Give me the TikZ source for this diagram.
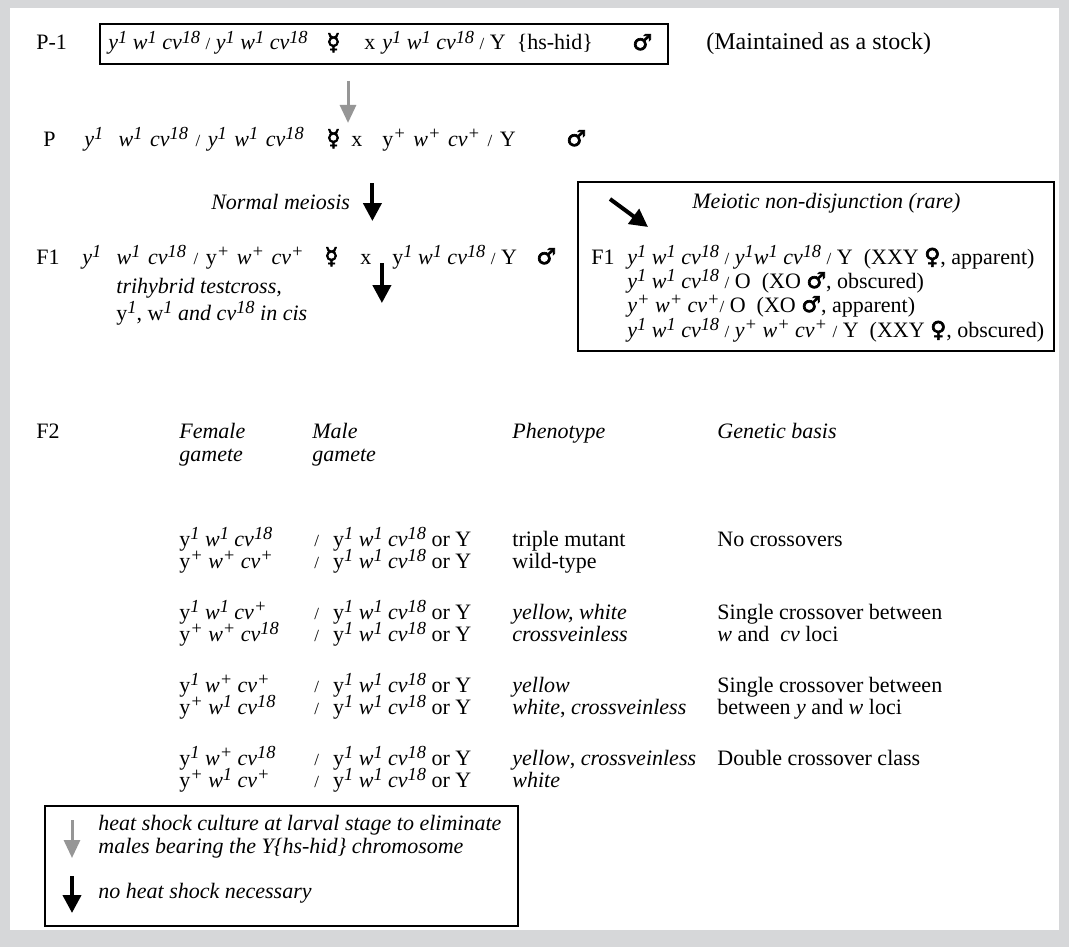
\documentclass[tikz,border=0pt]{standalone}
\usepackage{fontspec}
\setmainfont{Liberation Serif}
\newfontfamily\symfont[FakeBold=3]{DejaVu Sans}
\usetikzlibrary{arrows.meta,positioning,calc}
\definecolor{framegrey}{RGB}{214,215,217}
\definecolor{hsgrey}{RGB}{150,150,150}
\newcommand{\gi}[2]{\textit{#1}\raisebox{0.3em}[0pt][0pt]{\fontsize{9.2}{9.2}\selectfont\textit{#2}}}
\newcommand{\gu}[2]{#1\raisebox{0.3em}[0pt][0pt]{\fontsize{9.2}{9.2}\selectfont\textit{#2}}}
\newcommand{\slsh}{{\fontsize{8.5}{8.5}\selectfont /}}
\newcommand{\gsp}{\hspace{3.8pt}}
\newcommand{\fem}{{\symfont\fontsize{11.5}{11.5}\selectfont ☿}}
\newcommand{\femx}{{\symfont\fontsize{11}{11}\selectfont ♀}}
\newcommand{\mal}{{\symfont\fontsize{11}{11}\selectfont ♂}}
\tikzset{
  txt/.style={anchor=base west, inner sep=0pt},
  framebox/.style={draw, line width=0.8pt},
  hsarrow/.style={draw=hsgrey, line width=1.5pt, -{Triangle[length=9pt,width=8pt]}},
  nhsarrow/.style={draw=black, line width=2pt, -{Triangle[length=9pt,width=9pt]}}
}

\begin{document}
\begin{tikzpicture}[x=0.5pt,y=-0.5pt,font=\fontsize{11}{11.25}\selectfont]
			%%%%% FRAME %%%%%
			\fill[framegrey] (0,0) rectangle (1069,947);
			\fill[white] (10,8) rectangle (1059,930);
			\useasboundingbox (0,0) rectangle (1069,947);
			
			%%%%% P-1 %%%%%
			\draw[framebox] (100,24) rectangle (668,64);
			\node[txt] (lblPone) at (36,50) {P-1};
			\node[txt] (poneFem) at (108,50) {\gi{y}{1} \gi{w}{1} \gi{cv}{18} \slsh\ \gi{y}{1} \gi{w}{1} \gi{cv}{18}};
			\node[txt] (poneFemSym) at (326,50) {\fem};
			\node[txt] (poneCross) at (364,50) {x};
			\node[txt] (poneMale) at (382,50) {\gi{y}{1} \gi{w}{1} \gi{cv}{18} \slsh\ Y\ \ \{hs-hid\}};
			\node[txt] (poneMaleSym) at (632,50) {\mal};
			\node[txt, font=\fontsize{12}{12}\selectfont] (stock) at (706,50) {(Maintained as a stock)};
			
			%%%%% P %%%%%
			\node[txt] (lblP) at (43,146) {P};
			\node[txt] (pFem) at (84,146) {\gi{y}{1}\gsp\gsp\gi{w}{1}\gsp\gi{cv}{18}\gsp\slsh\gsp\gi{y}{1}\gsp\gi{w}{1}\gsp\gi{cv}{18}};
			\node[txt] (pFemSym) at (326,146) {\fem};
			\node[txt] (pCross) at (351,146) {x};
			\node[txt] (pMale) at (382,146) {\gu{y}{+}\gsp\gi{w}{+}\gsp\gi{cv}{+}\gsp\slsh\gsp Y};
			\node[txt] (pMaleSym) at (566,146) {\mal};
			
			\coordinate (hsTop) at ($(pCross.west)+(-3,-60)$);
			\coordinate (hsBot) at ($(pCross.west)+(-3,-18)$);
			\draw[hsarrow] (hsTop) -- (hsBot);
			
			%%%%% NORMAL MEIOSIS %%%%%
			\coordinate (nmTop) at ($(pCross.east)!0.5!(pMale.west)+(0,42)$);
			\coordinate (nmBot) at ($(pCross.east)!0.5!(pMale.west)+(0,80)$);
			\draw[nhsarrow] (nmTop) -- (nmBot);
			\node[anchor=base east, inner sep=0pt] (normal) at ($(nmTop)+(-22,26)$) {\textit{Normal meiosis}};
			
			%%%%% NON-DISJUNCTION %%%%%
			\draw[framebox] (578,182) rectangle (1054,351);
			\coordinate (ndTop) at (610,199);
			\coordinate (ndBot) at (648,227);
			\draw[nhsarrow] (ndTop) -- (ndBot);
			\node[txt] (nondis) at (692,208) {\textit{Meiotic non-disjunction (rare)}};
			\node[txt] (lblFoneB) at (591,264) {F1};
			\node[txt] (ndA) at (627,264) {\gi{y}{1} \gi{w}{1} \gi{cv}{18} \slsh\ \gi{y}{1}\gi{w}{1} \gi{cv}{18} \slsh\ Y\ \ (XXY \femx, apparent)};
			\node[txt] (ndB) at (627,288) {\gi{y}{1} \gi{w}{1} \gi{cv}{18} \slsh\ O\ \ (XO \mal, obscured)};
			\node[txt] (ndC) at (627,312) {\gi{y}{+} \gi{w}{+} \gi{cv}{+}\slsh\ O\ \ (XO \mal, apparent)};
			\node[txt] (ndD) at (627,337) {\gi{y}{1} \gi{w}{1} \gi{cv}{18} \slsh\ \gi{y}{+} \gi{w}{+} \gi{cv}{+} \slsh\ Y\ \ (XXY \femx, obscured)};
			
			%%%%% F1 %%%%%
			\node[txt] (lblFone) at (36,264) {F1};
			\node[txt] (fFem) at (82,264) {\gi{y}{1}\gsp\gsp\gi{w}{1}\gsp\gi{cv}{18}\gsp\slsh\gsp\gu{y}{+}\gsp\gi{w}{+}\gsp\gi{cv}{+}};
			\node[txt] (fFemSym) at (324,264) {\fem};
			\node[txt] (fCross) at (360,264) {x};
			\node[txt] (fMale) at (392,264) {\gu{y}{1} \gi{w}{1} \gi{cv}{18} \slsh\ Y};
			\node[txt] (fMaleSym) at (536,264) {\mal};
			
			\coordinate (tcTop) at ($(fCross.east)!0.5!(fMale.west)+(0,4)$);
			\coordinate (tcBot) at ($(fCross.east)!0.5!(fMale.west)+(0,44)$);
			\draw[nhsarrow] (tcTop) -- (tcBot);
			\node[txt] (tcA) at (116,293) {\textit{trihybrid testcross,}};
			\node[txt] (tcB) at (116,320) {\gu{y}{1}, \gu{w}{1} \textit{and} \gi{cv}{18} \textit{in cis}};
			
			%%%%% F2 %%%%%
			\node[txt] (lblFtwo) at (36,438) {F2};
			\node[txt] (hFemA) at (179,438) {\textit{Female}};
			\node[txt] (hFemB) at (179,461) {\textit{gamete}};
			\node[txt] (hMalA) at (312,438) {\textit{Male}};
			\node[txt] (hMalB) at (312,461) {\textit{gamete}};
			\node[txt] (hPhen) at (512,438) {\textit{Phenotype}};
			\node[txt] (hBasis) at (717,438) {\textit{Genetic basis}};
			
			\node[txt] (gA) at (179,546) {\gu{y}{1} \gi{w}{1} \gi{cv}{18}};
			\node[txt] (mA) at (314,546) {\slsh\hspace{7pt}\gu{y}{1} \gi{w}{1} \gi{cv}{18} or Y};
			\node[txt] (phA) at (512,546) {triple mutant};
			\node[txt] (bA) at (717,546) {No crossovers};
			\node[txt] (gB) at (179,568) {\gu{y}{+} \gi{w}{+} \gi{cv}{+}};
			\node[txt] (mB) at (314,568) {\slsh\hspace{7pt}\gu{y}{1} \gi{w}{1} \gi{cv}{18} or Y};
			\node[txt] (phB) at (512,568) {wild-type};
			
			\node[txt] (gC) at (179,619) {\gu{y}{1} \gi{w}{1} \gi{cv}{+}};
			\node[txt] (mC) at (314,619) {\slsh\hspace{7pt}\gu{y}{1} \gi{w}{1} \gi{cv}{18} or Y};
			\node[txt] (phC) at (512,619) {\textit{yellow, white}};
			\node[txt] (bC) at (717,619) {Single crossover between};
			\node[txt] (gD) at (179,641) {\gu{y}{+} \gi{w}{+} \gi{cv}{18}};
			\node[txt] (mD) at (314,641) {\slsh\hspace{7pt}\gu{y}{1} \gi{w}{1} \gi{cv}{18} or Y};
			\node[txt] (phD) at (512,641) {\textit{crossveinless}};
			\node[txt] (bD) at (717,641) {\textit{w} and\ \ \textit{cv} loci};
			
			\node[txt] (gE) at (179,692) {\gu{y}{1} \gi{w}{+} \gi{cv}{+}};
			\node[txt] (mE) at (314,692) {\slsh\hspace{7pt}\gu{y}{1} \gi{w}{1} \gi{cv}{18} or Y};
			\node[txt] (phE) at (512,692) {\textit{yellow}};
			\node[txt] (bE) at (717,692) {Single crossover between};
			\node[txt] (gF) at (179,714) {\gu{y}{+} \gi{w}{1} \gi{cv}{18}};
			\node[txt] (mF) at (314,714) {\slsh\hspace{7pt}\gu{y}{1} \gi{w}{1} \gi{cv}{18} or Y};
			\node[txt] (phF) at (512,714) {\textit{white}, \textit{crossveinless}};
			\node[txt] (bF) at (717,714) {between \textit{y} and \textit{w} loci};
			
			\node[txt] (gG) at (179,765) {\gu{y}{1} \gi{w}{+} \gi{cv}{18}};
			\node[txt] (mG) at (314,765) {\slsh\hspace{7pt}\gu{y}{1} \gi{w}{1} \gi{cv}{18} or Y};
			\node[txt] (phG) at (512,765) {\textit{yellow}, \textit{crossveinless}};
			\node[txt] (bG) at (717,765) {Double crossover class};
			\node[txt] (gH) at (179,787) {\gu{y}{+} \gi{w}{1} \gi{cv}{+}};
			\node[txt] (mH) at (314,787) {\slsh\hspace{7pt}\gu{y}{1} \gi{w}{1} \gi{cv}{18} or Y};
			\node[txt] (phH) at (512,787) {\textit{white}};
			
			%%%%% LEGEND %%%%%
			\draw[framebox] (45,806) rectangle (518,926);
			\coordinate (lgHsTop) at (72,820);
			\coordinate (lgHsBot) at (72,858);
			\draw[hsarrow] (lgHsTop) -- (lgHsBot);
			\node[txt] (lgHsA) at (98,830) {\textit{heat shock culture at larval stage to eliminate}};
			\node[txt] (lgHsB) at (98,853) {\textit{males bearing the Y\{hs-hid\} chromosome}};
			\coordinate (lgNhsTop) at (72,876);
			\coordinate (lgNhsBot) at (72,913);
			\draw[nhsarrow] (lgNhsTop) -- (lgNhsBot);
			\node[txt] (lgNhs) at (98,898) {\textit{no heat shock necessary}};
			
		\end{tikzpicture}
\end{document}
